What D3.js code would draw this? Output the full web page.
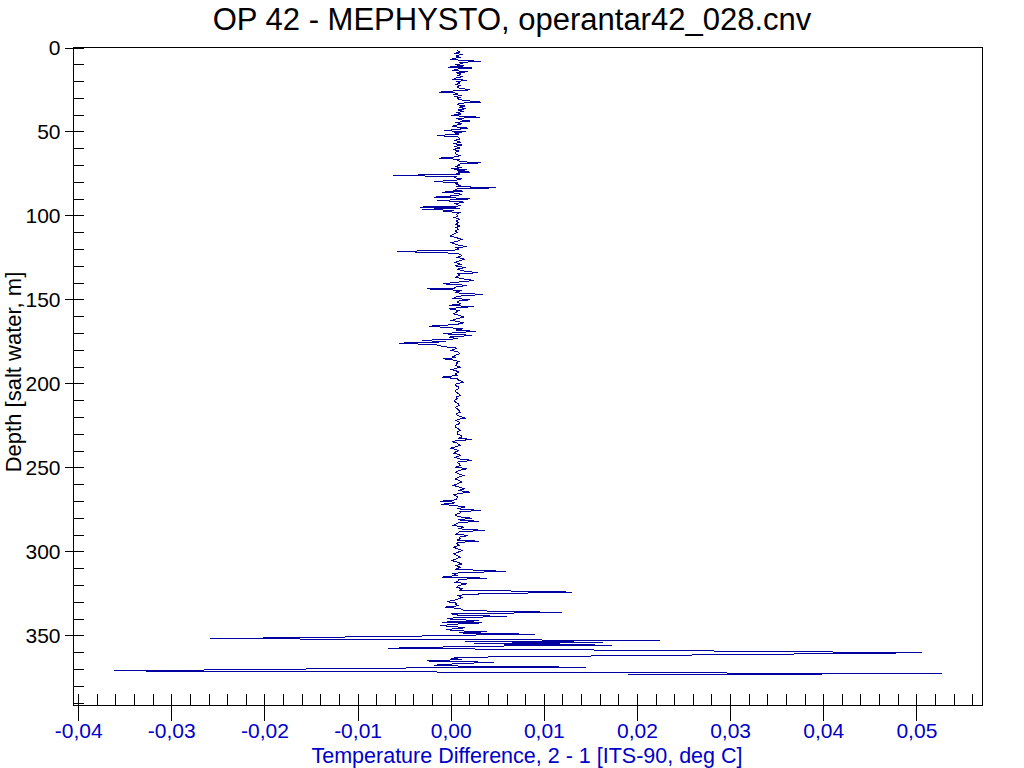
<!DOCTYPE html>
<html>
<head>
<meta charset="utf-8">
<script src="https://cdn.jsdelivr.net/npm/d3@7"></script>
<style>
  html, body { margin: 0; padding: 0; background: #ffffff; }
  svg { display: block; font-family: "Liberation Sans", Arial, sans-serif; }
</style>
</head>
<body>
<svg id="chart" width="1024" height="768"></svg>
<script>
// ---- Data: depth [m], temperature difference 2 - 1 [milli-deg C] ----
const profile0to120 = [
  [1.8,0.7],[2.6,1.0],[3.4,0.5],[4.2,1.1],[5.0,0.6],[5.8,1.0],[6.6,0.3],[7.1,-0.1],[7.6,1.2],[8.3,3.2],
  [8.9,0.9],[9.6,1.2],[10.3,0.5],[11.0,1.4],[11.7,-0.3],[12.2,2.3],[12.8,0.8],[13.7,0.1],[14.4,1.9],[15.0,0.6],
  [15.8,1.1],[16.6,0.8],[17.4,1.2],[18.2,0.5],[18.9,0.3],[19.5,1.7],[20.3,0.7],[21.1,1.0],[21.9,0.6],[22.7,1.0],
  [23.5,0.7],[24.3,1.0],[25.2,2.1],[25.8,0.5],[26.6,-1.2],[27.2,0.8],[27.9,0.3],[28.6,1.2],[29.2,0.4],[29.8,1.0],
  [30.6,0.7],[31.4,1.3],[32.5,3.2],[33.2,0.9],[34.0,0.7],[34.8,1.5],[35.6,0.9],[36.4,1.6],[37.2,0.8],[38.0,1.4],
  [38.8,0.7],[39.6,1.1],[40.5,0.0],[41.5,3.1],[42.2,0.6],[43.0,1.0],[43.8,2.1],[44.6,0.5],[45.4,1.2],[46.2,0.6],
  [47.0,0.1],[48.0,1.9],[48.8,0.6],[49.5,-0.7],[50.1,1.6],[50.8,0.4],[51.6,0.9],[52.4,-1.5],[53.2,0.8],[54.4,1.0],
  [55.3,0.5],[56.4,1.1],[57.2,0.3],[58.0,1.2],[58.9,0.5],[59.8,1.0],[60.7,0.3],[61.6,0.9],[62.3,0.5],[63.3,0.5],
  [64.4,1.0],[65.1,0.6],[65.9,-1.3],[66.6,0.9],[67.4,0.7],[68.0,1.3],[68.7,3.2],[69.4,0.8],[70.2,0.9],[71.0,0.5],
  [71.6,1.2],[72.2,0.0],[72.8,1.75],[73.5,0.7],[74.2,2.1],[74.8,0.6],[75.4,1.0],[76.2,-6.2],[76.8,0.7],[77.5,0.4],
  [78.2,1.2],[79.0,0.6],[79.8,-1.8],[80.5,0.8],[81.2,0.5],[82.1,1.0],[82.8,0.6],[83.5,4.9],[84.2,0.7],[84.9,0.4],
  [85.5,1.3],[86.1,-0.9],[86.8,0.8],[87.5,1.2],[88.2,0.5],[89.1,-1.8],[89.6,0.6],[90.1,2.1],[90.6,0.7],[91.1,-1.5],
  [91.6,0.9],[92.1,1.4],[92.9,0.5],[93.7,0.7],[94.3,1.1],[95.0,-3.3],[95.6,1.0],[96.4,-3.1],[96.9,0.3],[97.4,-0.8],
  [98.4,0.9],[99.3,0.6],[100.3,0.8],[101.2,0.4],[102.2,0.9],[103.2,0.6],[104.2,0.8],[105.2,0.5],[106.2,1.0],[107.2,0.6],
  [108.2,0.8],[109.2,0.5],[110.2,0.7],[111.2,0.3],[112.2,-0.1],[113.2,0.6],[114.2,1.2],[115.2,0.8],[116.2,0.1],[117.2,0.6],
  [117.9,0.9],[118.5,1.75],[119.2,0.6],[120.0,0.9],[120.7,0.3]
];
const profile120to240 = [
  [121.4,-5.8],[122.5,0.7],[123.2,1.0],[124.0,1.2],[125.0,0.7],[126.0,1.5],[127.0,0.9],[128.0,0.5],[129.0,1.1],[130.0,0.5],
  [131.0,1.6],[132.0,0.7],[133.0,1.4],[134.1,2.9],[134.7,0.8],[135.5,1.0],[136.7,0.5],[137.6,1.2],[138.7,2.5],[139.7,0.7],
  [140.7,-0.8],[141.2,0.9],[141.7,1.75],[142.5,0.6],[143.2,0.4],[143.7,-2.5],[144.6,1.2],[145.6,0.5],[146.3,1.0],[147.0,3.5],
  [148.0,0.9],[148.6,0.5],[149.2,0.3],[150.2,2.1],[150.9,0.9],[151.6,0.7],[152.6,1.1],[153.6,-0.2],[154.2,2.5],[154.9,0.8],
  [155.6,-0.2],[156.6,0.9],[157.5,0.6],[158.5,0.3],[159.5,0.9],[160.5,1.4],[161.5,0.6],[162.5,0.1],[163.2,0.8],[163.9,1.4],
  [164.9,0.6],[165.9,-2.3],[166.7,-0.4],[167.5,1.3],[168.2,0.6],[169.0,2.7],[169.7,0.7],[170.4,-0.8],[170.9,0.9],[171.4,2.3],
  [172.4,-0.2],[173.4,0.8],[174.4,-3.1],[175.2,-0.5],[176.0,-5.5],[177.0,-1.5],[178.0,-0.8],[179.0,0.7],[180.3,0.1],[181.3,0.8],
  [182.3,1.0],[183.1,0.5],[183.9,0.3],[184.6,0.6],[185.3,-0.8],[186.1,0.3],[186.9,0.9],[187.6,0.6],[188.3,0.7],[189.3,0.5],
  [190.3,1.0],[191.0,0.6],[191.7,0.1],[192.5,0.6],[193.2,0.9],[194.2,0.5],[195.2,0.7],[196.2,-0.9],[197.2,0.7],[198.2,0.9],
  [199.2,1.4],[200.2,0.6],[201.2,0.5],[202.2,0.9],[203.2,0.8],[204.2,0.5],[205.2,0.6],[206.2,0.9],[207.1,1.0],[208.1,0.6],
  [209.1,0.7],[210.1,0.4],[211.1,0.5],[212.1,0.8],[213.1,0.9],[214.1,0.5],[215.1,0.7],[216.1,0.9],[217.1,1.0],[218.0,0.6],
  [219.0,0.7],[220.6,1.6],[221.3,0.8],[222.0,0.6],[223.0,0.9],[224.0,0.9],[225.0,0.5],[226.0,0.5],[227.0,0.8],[228.0,1.0],
  [229.0,0.7],[230.0,0.7],[230.9,1.1],[231.9,1.2],[232.6,0.8],[233.3,2.3],[234.0,0.9],[234.5,0.1],[235.5,0.7],[236.9,1.0],
  [237.7,0.5],[238.5,0.0],[239.3,0.6]
];
const profile240to340 = [
  [240.0,0.85],[240.8,0.5],[241.5,0.32],[242.3,0.9],[243.0,1.03],[244.0,0.49],[244.9,0.9],[245.8,2.3],[246.8,0.67],[247.8,0.9],
  [248.8,1.03],[249.8,0.6],[250.8,1.75],[251.8,0.9],[252.8,0.49],[253.8,0.8],[254.8,1.39],[255.8,0.8],[256.8,0.49],[257.7,0.9],
  [258.7,1.21],[259.7,0.7],[260.7,0.32],[261.7,0.9],[262.7,1.57],[263.7,0.8],[264.7,2.1],[265.5,0.9],[266.3,0.32],[267.5,0.7],
  [268.7,0.67],[269.4,0.3],[270.1,-1.1],[270.6,0.2],[271.1,0.49],[271.9,-1.05],[272.8,0.6],[273.6,1.57],[274.6,0.7],[275.6,3.2],
  [276.3,1.0],[277.0,1.03],[277.8,0.6],[278.6,0.49],[279.4,0.9],[280.2,2.3],[281.2,0.8],[282.1,3.0],[282.8,0.9],[283.5,0.67],
  [284.5,0.3],[285.5,1.39],[286.5,0.8],[287.5,3.7],[288.2,0.9],[288.9,0.85],[289.7,0.6],[290.5,1.9],[291.5,0.9],[292.5,1.03],
  [293.2,0.7],[293.9,3.0],[294.6,0.8],[295.4,0.67],[296.4,0.9],[297.4,0.32],[298.4,0.7],[299.4,1.21],[300.4,0.8],[301.4,0.32],
  [302.4,0.7],[303.4,1.03],[304.4,0.6],[305.4,0.14],[306.4,0.7],[307.4,1.21],[308.4,0.6],[309.4,1.03],[310.6,0.5],[311.9,5.9],
  [312.6,1.0],[313.3,0.32],[314.3,0.7],[315.3,-0.95],[315.9,3.9],[316.6,0.9],[317.3,0.85],[318.3,0.5],[319.3,1.75],[320.3,0.8],
  [321.3,0.67],[322.2,1.2],[323.0,1.0],[324.2,13.0],[325.5,1.5],[326.4,0.8],[327.3,1.2],[328.6,0.7],[329.9,-0.4],[330.7,0.6],
  [331.5,0.49],[332.3,0.9],[333.1,-0.6],[334.1,1.03],[335.2,1.5],[336.3,12.0],[337.1,0.0],[337.9,0.8],[338.7,6.0],[339.4,0.6],
  [340.1,-0.4]
];
const profile340toEnd = [
  [341.3,3.0],[342.1,-0.95],[342.5,3.4],[343.2,0.8],[344.1,-1.1],[344.8,0.5],[345.5,1.5],[346.5,-0.5],[347.2,0.6],[347.8,3.9],
  [348.5,0.9],[349.3,9.0],[349.9,0.3],[350.4,-3.6],[351.9,-25.8],[353.0,22.5],[353.7,1.5],[354.3,16.3],[354.9,2.5],[355.8,17.3],
  [356.5,0.5],[357.0,-1.2],[357.6,-6.7],[358.0,1.0],[360.3,50.6],[362.9,2.8],[363.5,0.0],[364.3,1.2],[365.2,-2.5],[366.0,4.6],
  [366.7,1.0],[367.7,-1.8],[368.4,1.8],[368.9,14.5],[369.2,-1.4],[371.1,-36.1],[372.8,52.7],[373.2,19.0]
];

const xTickValues = [-40, -30, -20, -10, 0, 10, 20, 30, 40, 50];          // milli-deg C
const xTickLabels = ["-0,04", "-0,03", "-0,02", "-0,01", "0,00", "0,01", "0,02", "0,03", "0,04", "0,05"];
const yTickValues = [0, 50, 100, 150, 200, 250, 300, 350];
const titleText = "OP 42 - MEPHYSTO, operantar42_028.cnv";
const xLabelText = "Temperature Difference, 2 - 1 [ITS-90, deg C]";
const yLabelText = "Depth [salt water, m]";

// ---- Layout ----
const plotLeft = 73.5, plotRight = 982.5, plotTop = 47.5, plotBottom = 705.5;
const blue = "#0000c8";
const lineColor = "#0000a0";

const data = profile0to120.concat(profile120to240, profile240to340, profile340toEnd);

const svg = d3.select("#chart");

const x = d3.scaleLinear().domain([-40.5, 57.1]).range([plotLeft, plotRight]);
const y = d3.scaleLinear().domain([0, 391.7]).range([plotTop, plotBottom]);

// Trace
const line = d3.line().x(d => x(d[1])).y(d => y(d[0]));
svg.append("path")
  .datum(data)
  .attr("d", line)
  .attr("fill", "none")
  .attr("stroke", lineColor)
  .attr("stroke-width", 1)
  .attr("shape-rendering", "crispEdges");

// Frame
svg.append("rect")
  .attr("x", plotLeft).attr("y", plotTop)
  .attr("width", plotRight - plotLeft).attr("height", plotBottom - plotTop)
  .attr("fill", "none").attr("stroke", "#000").attr("stroke-width", 1)
  .attr("shape-rendering", "crispEdges");

// X axis: minor ticks (inside) every 0.002
const xMinor = d3.range(-40, 57, 2);
const gxMinor = svg.append("g").attr("transform", `translate(0,${plotBottom})`)
  .call(d3.axisBottom(x).tickValues(xMinor).tickSize(-12).tickFormat(""));
gxMinor.select(".domain").remove();

// X axis: major ticks (outside) with labels
const gx = svg.append("g").attr("transform", `translate(0,${plotBottom})`)
  .call(d3.axisBottom(x).tickValues(xTickValues).tickSize(15).tickPadding(3)
    .tickFormat((d, i) => xTickLabels[i]));
gx.select(".domain").remove();
gx.selectAll("text").attr("fill", blue).style("font-size", "21px")
  .style("font-family", "'Liberation Sans', Arial, sans-serif");

// Y axis: minor ticks (inside) every 10 m
const yMinor = d3.range(0, 391, 10);
const gyMinor = svg.append("g").attr("transform", `translate(${plotLeft},0)`)
  .call(d3.axisLeft(y).tickValues(yMinor).tickSize(-10).tickFormat(""));
gyMinor.select(".domain").remove();

// Y axis: major ticks (outside) with labels
const gy = svg.append("g").attr("transform", `translate(${plotLeft},0)`)
  .call(d3.axisLeft(y).tickValues(yTickValues).tickSize(9).tickPadding(4));
gy.select(".domain").remove();
gy.selectAll("text").attr("fill", "#000").style("font-size", "21px")
  .style("font-family", "'Liberation Sans', Arial, sans-serif");

svg.selectAll(".tick line").attr("stroke", "#000").attr("shape-rendering", "crispEdges");

// Title
svg.append("text")
  .attr("x", 512).attr("y", 30)
  .attr("text-anchor", "middle")
  .style("font-size", "31px")
  .attr("fill", "#000")
  .text(titleText);

// X label
svg.append("text")
  .attr("x", 527).attr("y", 763)
  .attr("text-anchor", "middle")
  .style("font-size", "21.5px")
  .attr("fill", blue)
  .text(xLabelText);

// Y label
svg.append("text")
  .attr("transform", `translate(21,${372}) rotate(-90)`)
  .attr("text-anchor", "middle")
  .style("font-size", "22px")
  .attr("fill", "#000")
  .text(yLabelText);
</script>
</body>
</html>
